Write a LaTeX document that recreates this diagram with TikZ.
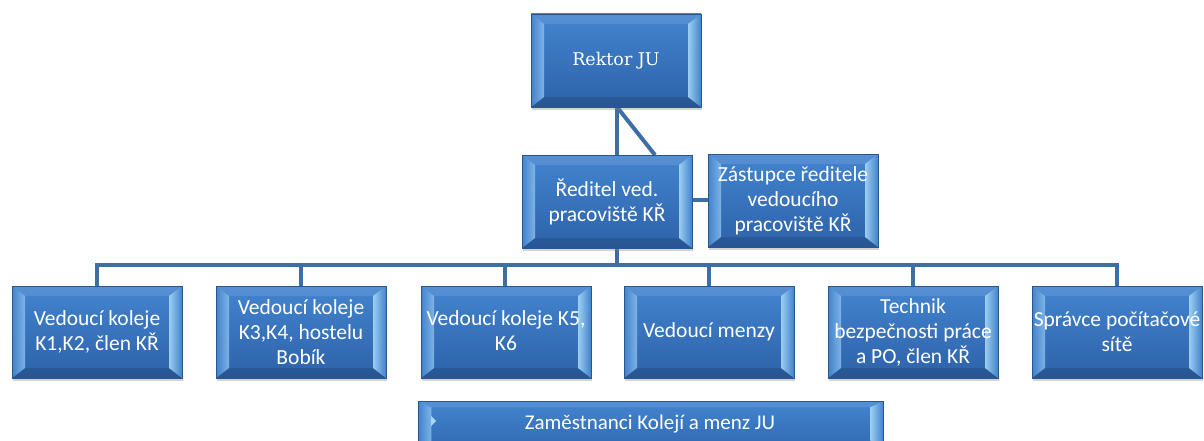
\documentclass[tikz,border=0pt]{standalone}
\usepackage{fontspec}
\setmainfont{Carlito}
\newfontfamily\rkfont{DejaVu Serif}
\usetikzlibrary{shadows,calc}
\definecolor{bTop}{HTML}{4384D0}
\definecolor{bBot}{HTML}{2D62A8}
\definecolor{bEdge}{HTML}{2A568F}
\definecolor{bLight}{HTML}{A6D8F6}
\definecolor{bLeft}{HTML}{86BBEA}
\definecolor{lineC}{HTML}{3D6FA7}
\tikzset{
  bevelbox/.style={rectangle, minimum width=170pt, minimum height=92pt, inner sep=0pt,
    top color=bTop, bottom color=bBot, draw=bEdge, line width=0.6pt,
    text=white, align=center, font=\fontsize{21.5}{25}\selectfont,
    drop shadow={opacity=0.35, shadow xshift=1pt, shadow yshift=-3pt},
    path picture={
      \coordinate (pSW) at (path picture bounding box.south west);
      \coordinate (pNE) at (path picture bounding box.north east);
      \coordinate (pNW) at (path picture bounding box.north west);
      \coordinate (pSE) at (path picture bounding box.south east);
      \fill[white, opacity=0.10] (pNW) -- (pNE) -- ([shift={(-13pt,-10pt)}]pNE) -- ([shift={(13pt,-10pt)}]pNW) -- cycle;
      \fill[black, opacity=0.12] (pSW) -- (pSE) -- ([shift={(-13pt,10pt)}]pSE) -- ([shift={(13pt,10pt)}]pSW) -- cycle;
      \shade[left color=bTop, right color=bLeft, opacity=0.9] (pSW) -- ([shift={(13pt,10pt)}]pSW) -- ([shift={(13pt,-10pt)}]pNW) -- (pNW) -- cycle;
      \shade[left color=bLight, right color=bTop, opacity=0.9] ([shift={(-13pt,10pt)}]pSE) -- (pSE) -- (pNE) -- ([shift={(-13pt,-10pt)}]pNE) -- cycle;
    }},
  barbox/.style={rectangle, minimum width=465pt, minimum height=60pt, inner sep=0pt,
    top color=bTop, bottom color=bBot, draw=bEdge, line width=0.6pt,
    drop shadow={opacity=0.35, shadow xshift=1pt, shadow yshift=-3pt},
    path picture={
      \coordinate (pSW) at (path picture bounding box.south west);
      \coordinate (pNE) at (path picture bounding box.north east);
      \coordinate (pNW) at (path picture bounding box.north west);
      \coordinate (pSE) at (path picture bounding box.south east);
      \fill[white, opacity=0.10] (pNW) -- (pNE) -- ([shift={(-13pt,-6pt)}]pNE) -- ([shift={(13pt,-6pt)}]pNW) -- cycle;
      \shade[left color=bTop, right color=bLeft, opacity=0.9] (pSW) -- ([shift={(13pt,6pt)}]pSW) -- ([shift={(13pt,-6pt)}]pNW) -- (pNW) -- cycle;
      \shade[left color=bLight, right color=bTop, opacity=0.9] ([shift={(-13pt,6pt)}]pSE) -- (pSE) -- (pNE) -- ([shift={(-13pt,-6pt)}]pNE) -- cycle;
    }},
  conn/.style={draw=lineC, line width=4pt}
}
\begin{document}
\begin{tikzpicture}[x=1pt,y=-1pt]
\useasboundingbox (0,0) rectangle (1204,441);
\clip (0,0) rectangle (1204,441);
% connectors first
\coordinate (j1) at (617,107);
\coordinate (j2) at (617,155);
\coordinate (j3) at (617,248);
\coordinate (bar) at (617,265);
\coordinate (dg) at (655,155);
\draw[conn] (j1) -- (j2);
\draw[conn] (j1) -- (dg);
\draw[conn] (692,200) -- (708,200);
\draw[conn] (j3) -- (bar);
\draw[conn] (97,286) |- (bar) -| (1117,286);
\draw[conn] (301,286) -- (301,265);
\draw[conn] (505,286) -- (505,265);
\draw[conn] (709,286) -- (709,265);
\draw[conn] (913,286) -- (913,265);
% nodes
\node[bevelbox, minimum height=93pt, font=\rkfont\fontsize{17.5}{21}\selectfont] (rektor) at (616,60.5) {Rektor JU};
\node[bevelbox, minimum height=93pt] (reditel) at (607,201.5) {Ředitel ved.\\pracoviště KŘ};
\node[bevelbox, minimum height=93pt] (zast) at (793,200.5) {Zástupce ředitele\\vedoucího\\pracoviště KŘ};
\node[bevelbox] (k1) at (97,332) {Vedoucí koleje\\K1,K2, člen KŘ};
\node[bevelbox] (k3) at (301,332) {Vedoucí koleje\\K3,K4, hostelu\\Bobík};
\node[bevelbox] (k5) at (506,332) {Vedoucí koleje K5,\\K6\vphantom{p}};
\node[bevelbox] (menzy) at (709,332) {Vedoucí menzy};
\node[bevelbox] (tech) at (913,332) {Technik\\bezpečnosti práce\\a PO, člen KŘ};
\node[bevelbox] (sprav) at (1117,332) {Správce počítačové\\sítě};
% bottom bar
\node[barbox, anchor=north west] (zam) at (418,401) {};
\node[text=white, font=\fontsize{21}{25}\selectfont, anchor=base] (zamt) at (650,429) {Zaměstnanci Kolejí a menz JU};
\fill[bLight] (431,416) -- (436,421) -- (431,426) -- cycle;
\end{tikzpicture}
\end{document}
